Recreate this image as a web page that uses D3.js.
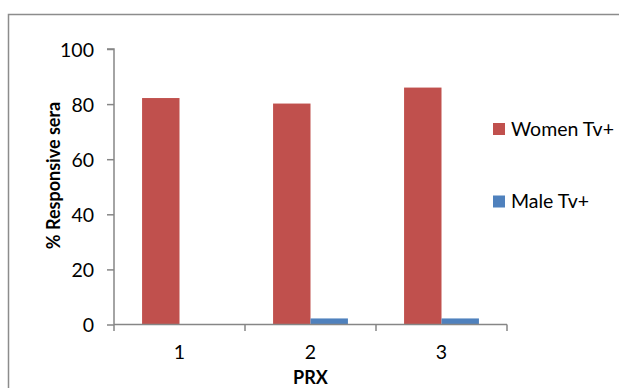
<!DOCTYPE html>
<html><head><meta charset="utf-8">
<script src="https://cdn.jsdelivr.net/npm/d3@7"></script>
<style>
html,body{margin:0;padding:0;background:#fff;}
svg{display:block;}
text{font-family:Lato, "Open Sans", sans-serif;fill:#000;}
</style></head>
<body>
<script>
const categories = ["1", "2", "3"];
const seriesNames = ["Women Tv+", "Male Tv+"];
const womenValues = [82.2, 80.2, 86.0];
const maleValues = [0, 2.2, 2.2];
const yTicks = [0, 20, 40, 60, 80, 100];
const colors = ["#C0504D", "#4F81BD"];

const W = 619, H = 388;
const svg = d3.select("body").append("svg").attr("width", W).attr("height", H);

// outer frame
svg.append("path").attr("d", `M8.5,${H+2}V14.5H${W+2}`)
  .attr("fill", "none").attr("stroke", "#8c8c8c").attr("stroke-width", 1.5);

const x0 = d3.scaleBand().domain(categories).range([114, 507]);
const x1 = d3.scaleBand().domain(seriesNames).range([0, x0.bandwidth()]).paddingInner(0).paddingOuter(0.75);
const y = d3.scaleLinear().domain([0, 100]).range([324.5, 49]);

const data = categories.map((c, i) => ({cat: c, vals: [womenValues[i], maleValues[i]]}));

const g = svg.append("g");
g.selectAll("g.grp").data(data).join("g").attr("class", "grp")
  .attr("transform", d => `translate(${x0(d.cat)},0)`)
  .selectAll("rect").data(d => d.vals.map((v, j) => ({s: seriesNames[j], v, j})))
  .join("rect")
  .attr("x", d => x1(d.s))
  .attr("width", x1.bandwidth())
  .attr("y", d => y(d.v))
  .attr("height", d => y(0) - y(d.v))
  .attr("fill", d => colors[d.j]);

const axisColor = "#868686";
// y axis
const yAxis = svg.append("g").attr("transform", "translate(114,0)")
  .call(d3.axisLeft(y).tickValues(yTicks).tickSize(7).tickPadding(13).tickFormat(d3.format("d")));
yAxis.select(".domain").attr("stroke", axisColor).attr("stroke-width", 1.5).attr("d", `M-7,${y(100)}H0V${y(0)}`);
yAxis.selectAll(".tick line").attr("stroke", axisColor).attr("stroke-width", 1.5);
yAxis.selectAll(".tick text").attr("font-size", "19.5px").attr("font-family", "Lato").attr("fill", "#000").attr("dy", "0.37em");

// x axis
const xAxis = svg.append("g").attr("transform", `translate(0,${y(0)})`)
  .call(d3.axisBottom(x0).tickSize(0).tickPadding(21));
xAxis.select(".domain").attr("stroke", axisColor).attr("stroke-width", 1.5).attr("d", "M114,0H507");
xAxis.selectAll(".tick text").attr("font-size", "19.5px").attr("font-family", "Lato").attr("fill", "#000");
// boundary ticks between categories
const bounds = categories.map(c => x0(c)).concat([x0(categories[categories.length-1]) + x0.bandwidth()]);
xAxis.selectAll("line.bt").data(bounds).join("line").attr("class", "bt")
  .attr("x1", d => d).attr("x2", d => d).attr("y1", 0).attr("y2", 6.5)
  .attr("stroke", axisColor).attr("stroke-width", 1.5);

// axis titles
svg.append("text").attr("x", x0("2") + x0.bandwidth()/2).attr("y", 384)
  .attr("text-anchor", "middle").attr("font-size", "18px").attr("font-weight", "bold").text("PRX");
svg.append("text").attr("transform", "translate(60,175.5) rotate(-90)")
  .attr("text-anchor", "middle").attr("font-size", "18px").attr("font-weight", "bold").text("% Responsive sera");

// legend
const legY = [123, 195.5];
const leg = svg.selectAll("g.leg").data(seriesNames).join("g").attr("class", "leg")
  .attr("transform", (d, i) => `translate(493,${legY[i]})`);
leg.append("rect").attr("width", 12).attr("height", 12).attr("fill", (d, i) => colors[i]);
leg.append("text").attr("x", 18).attr("y", 12.5).attr("font-size", "19.5px").text(d => d);
</script>
</body></html>
